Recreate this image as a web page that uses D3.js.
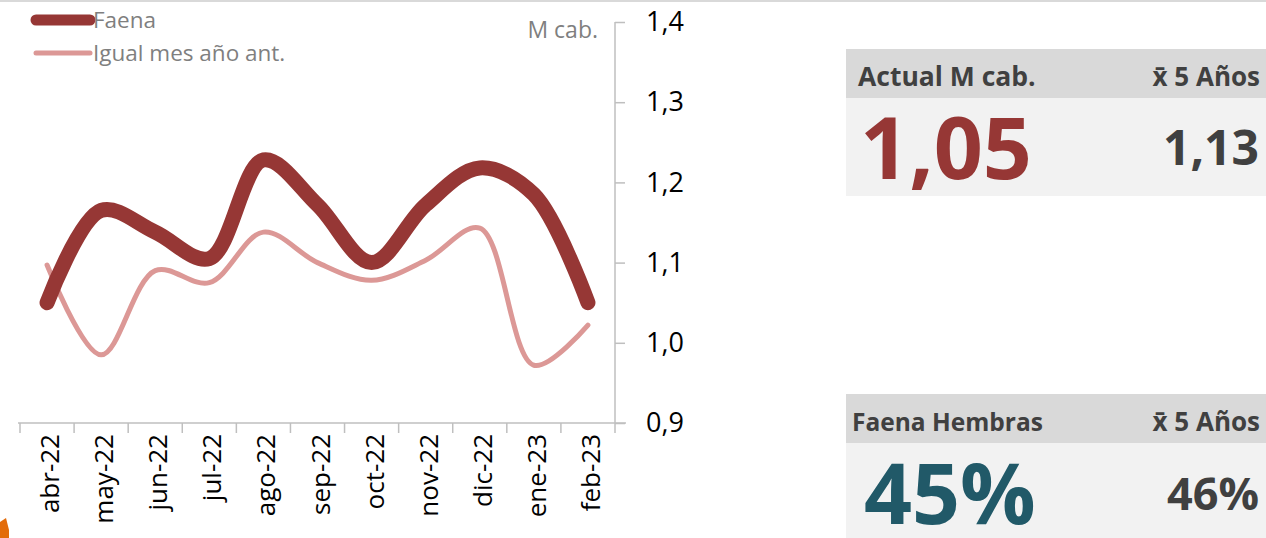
<!DOCTYPE html>
<head>
<meta charset="utf-8">
<title>Faena</title>
<script src="https://cdn.jsdelivr.net/npm/d3@7"></script>
<style>
  body { margin: 0; background: #fff; }
  svg { display: block; font-family: "Open Sans", sans-serif; }
</style>
</head>
<body>
<div id="chart"></div>

<script>
// Data
const months = ["abr-22","may-22","jun-22","jul-22","ago-22","sep-22","oct-22","nov-22","dic-22","ene-23","feb-23"];
const faena = [1.05, 1.165, 1.138, 1.105, 1.228, 1.172, 1.10, 1.172, 1.218, 1.185, 1.05];
const anterior = [1.097, 0.985, 1.09, 1.075, 1.138, 1.10, 1.078, 1.103, 1.143, 0.972, 1.022];
const yTicks = [0.9, 1.0, 1.1, 1.2, 1.3, 1.4];
const seriesNames = ["Faena", "Igual mes año ant."];

const panelFaena = { title: "Actual M cab.", avgTitle: "x̄ 5 Años", value: "1,05", avg: "1,13" };
const panelHembras = { title: "Faena Hembras", avgTitle: "x̄ 5 Años", value: "45%", avg: "46%" };

const W = 1266, H = 538;
const dark = "#963735", light = "#dc9896", grey = "#bfbfbf";

const svg = d3.select("#chart").append("svg").attr("width", W).attr("height", H);

// top border
svg.append("line").attr("x1", 0).attr("x2", W).attr("y1", 1).attr("y2", 1)
  .attr("stroke", "#d9d9d9").attr("stroke-width", 2);

//
// Scales
//
const x = d3.scaleBand().domain(months).range([20, 615]);
const y = d3.scaleLinear().domain([0.9, 1.4]).range([423, 22]);
const cx = d => x(d) + x.bandwidth() / 2;

// y axis on the right
const yAxis = svg.append("g")
  .attr("transform", "translate(615,0)")
  .call(d3.axisRight(y).tickValues(yTicks).tickSize(10).tickPadding(21)
    .tickFormat(d => d3.format(".1f")(d).replace(".", ",")));
yAxis.selectAll("line, path").attr("stroke", grey).attr("stroke-width", 1.5);
yAxis.select(".domain").attr("d", "M0," + y(1.4) + "V" + y(0.9));
yAxis.selectAll("text").attr("font-size", 27).attr("fill", "#000").attr("font-family", "Open Sans");

// x axis
const xg = svg.append("g").attr("transform", "translate(0,423)");
xg.append("line").attr("x1", 18).attr("x2", 626).attr("stroke", grey).attr("stroke-width", 1.5);
xg.selectAll(".bound").data(months.map(m => x(m)).concat([x.range()[1]]))
  .join("line").attr("class", "bound")
  .attr("x1", d => d).attr("x2", d => d).attr("y1", 0).attr("y2", 10)
  .attr("stroke", grey).attr("stroke-width", 1.5);
xg.selectAll(".lbl").data(months).join("text").attr("class", "lbl")
  .attr("transform", d => "translate(" + (cx(d) + 12) + ",11) rotate(-90)")
  .attr("text-anchor", "end").attr("font-size", 26).attr("fill", "#000")
  .text(d => d);

// lines
const line = d3.line().x((d, i) => cx(months[i])).y(d => y(d)).curve(d3.curveCatmullRom.alpha(0.5));
svg.append("path").datum(anterior).attr("d", line).attr("fill", "none")
  .attr("stroke", light).attr("stroke-width", 5).attr("stroke-linecap", "round");
svg.append("path").datum(faena).attr("d", line).attr("fill", "none")
  .attr("stroke", dark).attr("stroke-width", 15).attr("stroke-linecap", "round");

// legend
const legend = [
  { name: seriesNames[0], color: dark, w: 11, y: 20 },
  { name: seriesNames[1], color: light, w: 5, y: 53 }
];
legend.forEach(l => {
  svg.append("line").attr("x1", 36).attr("x2", 90).attr("y1", l.y).attr("y2", l.y)
    .attr("stroke", l.color).attr("stroke-width", l.w).attr("stroke-linecap", "round");
  svg.append("text").attr("x", 93).attr("y", l.y + 8).attr("font-size", 22.5)
    .attr("fill", "#7f7f7f").text(l.name);
});
svg.append("text").attr("x", 598).attr("y", 38).attr("text-anchor", "end")
  .attr("font-size", 23).attr("fill", "#7f7f7f").text("M cab.");

//
// Side panels
//
function panel(p, top, bodyH, color, titleX, titleSize, valueX, valueSize, avgSize) {
  const g = svg.append("g").attr("transform", "translate(846," + top + ")");
  g.append("rect").attr("width", W - 846).attr("height", 49).attr("fill", "#d9d9d9");
  g.append("rect").attr("y", 49).attr("width", W - 846).attr("height", bodyH).attr("fill", "#f2f2f2");
  g.append("text").attr("x", titleX).attr("y", 37).attr("font-size", titleSize).attr("font-weight", 700)
    .attr("fill", "#404040").text(p.title);
  g.append("text").attr("x", 414).attr("y", 37).attr("text-anchor", "end").attr("font-size", 26)
    .attr("font-weight", 700).attr("fill", "#404040").text(p.avgTitle);
  g.append("text").attr("x", valueX).attr("y", 130).attr("font-size", valueSize).attr("font-weight", 700)
    .attr("fill", color).text(p.value);
  g.append("text").attr("x", 413).attr("y", 116).attr("text-anchor", "end").attr("font-size", avgSize)
    .attr("font-weight", 700).attr("fill", "#404040").text(p.avg);
}
panel(panelFaena, 49, 98, dark, 12, 26.5, 14, 86, 48);
panel(panelHembras, 394, 100, "#215968", 6, 24.5, 18, 84, 45);

// orange corner mark
svg.append("path").attr("d", "M0,522 L6,518 L9,530 L9,538 L0,538 Z").attr("fill", "#e36c0a");
</script>
</body>
